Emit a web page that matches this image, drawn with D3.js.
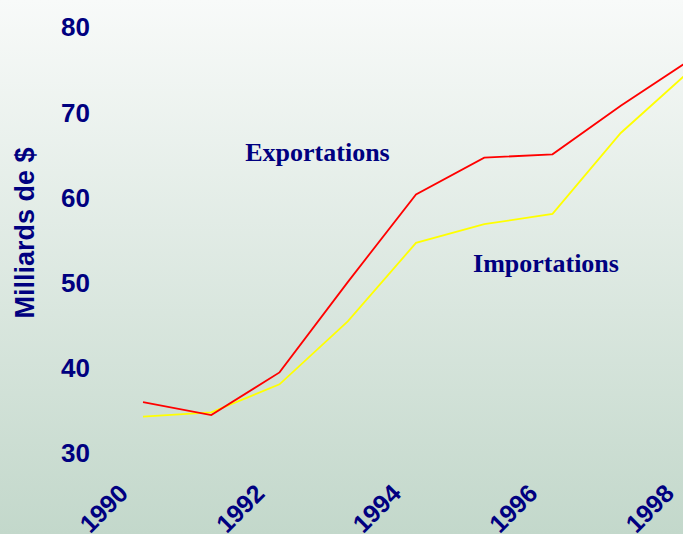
<!DOCTYPE html>
<html>

<head>
    <title>Exportations / Importations</title>
    <meta charset="UTF-8">
    <style type="text/css">
        body {
            margin: 0;
            overflow: hidden;
        }

        .axis path,
        .axis line {
            display: none;
        }

        .axis text {
            font-family: "Liberation Sans", Arial, sans-serif;
            font-weight: bold;
            fill: #000080;
        }

        .line {
            fill: none;
            stroke-width: 1.8px;
        }
    </style>
    <script src="https://d3js.org/d3.v7.min.js"></script>
</head>

<body>
    <script type="text/javascript">
        // values (milliards de $)
        var years = [1990, 1991, 1992, 1993, 1994, 1995, 1996, 1997, 1998];
        var exportations = [35.9, 34.4, 39.4, 50.0, 60.3, 64.6, 65.0, 70.7, 76.0];
        var importations = [34.2, 34.7, 38.0, 45.4, 54.6, 56.8, 58.0, 67.5, 74.7];
        var xTicks = [1990, 1992, 1994, 1996, 1998];
        var yTicks = [30, 40, 50, 60, 70, 80];

        var width = 683,
            height = 534;

        var svg = d3.select("body")
            .append("svg")
            .attr("width", width)
            .attr("height", height);

        // background gradient, light on top, greenish grey at the bottom
        var grad = svg.append("defs")
            .append("linearGradient")
            .attr("id", "bg")
            .attr("x1", 0).attr("y1", 0)
            .attr("x2", 0).attr("y2", 1);
        grad.append("stop").attr("offset", "0%").attr("stop-color", "#f8faf9");
        grad.append("stop").attr("offset", "100%").attr("stop-color", "#c3d8cb");

        svg.append("rect")
            .attr("width", width)
            .attr("height", height)
            .attr("fill", "url(#bg)");

        var x = d3.scaleLinear()
            .domain([1990, 1998])
            .range([143, 689]);

        var y = d3.scaleLinear()
            .domain([30, 80])
            .range([452.5, 26.5]);

        // y axis labels
        svg.append("g")
            .attr("class", "axis")
            .attr("transform", "translate(100,0)")
            .call(d3.axisLeft(y).tickValues(yTicks).tickSize(0).tickPadding(10))
            .selectAll("text")
            .style("font-size", "26px")
            .attr("dy", "0.36em");

        // x axis labels, turned 45 degrees (cut by the bottom edge, as in the original)
        svg.append("g")
            .attr("class", "axis")
            .call(d3.axisBottom(x).tickValues(xTicks).tickFormat(d3.format("d")).tickSize(0))
            .selectAll("text")
            .style("font-size", "25px")
            .style("text-anchor", "end")
            .attr("y", 0)
            .attr("dy", 0)
            .attr("transform", "translate(-14,495) rotate(-45)");

        // y axis title
        svg.append("text")
            .attr("transform", "translate(34,233) rotate(-90)")
            .style("text-anchor", "middle")
            .style("font-family", "'Liberation Sans', Arial, sans-serif")
            .style("font-weight", "bold")
            .style("font-size", "27px")
            .style("fill", "#000080")
            .text("Milliards de $");

        var line = d3.line()
            .x(function(d, i) {
                return x(years[i]);
            })
            .y(function(d) {
                return y(d);
            });

        svg.append("path")
            .datum(importations)
            .attr("class", "line")
            .attr("stroke", "#ffff00")
            .attr("d", line);

        svg.append("path")
            .datum(exportations)
            .attr("class", "line")
            .attr("stroke", "#ff0000")
            .attr("d", line);

        // series labels
        var labels = [
            { text: "Exportations", x: 317.5, y: 161 },
            { text: "Importations", x: 546, y: 272 }
        ];
        svg.selectAll(".serie")
            .data(labels)
            .enter()
            .append("text")
            .attr("class", "serie")
            .attr("x", function(d) { return d.x; })
            .attr("y", function(d) { return d.y; })
            .style("text-anchor", "middle")
            .style("font-family", "'Liberation Serif', 'Times New Roman', serif")
            .style("font-weight", "bold")
            .style("font-size", "26px")
            .style("fill", "#000080")
            .text(function(d) { return d.text; });
    </script>

</body>

</html>
